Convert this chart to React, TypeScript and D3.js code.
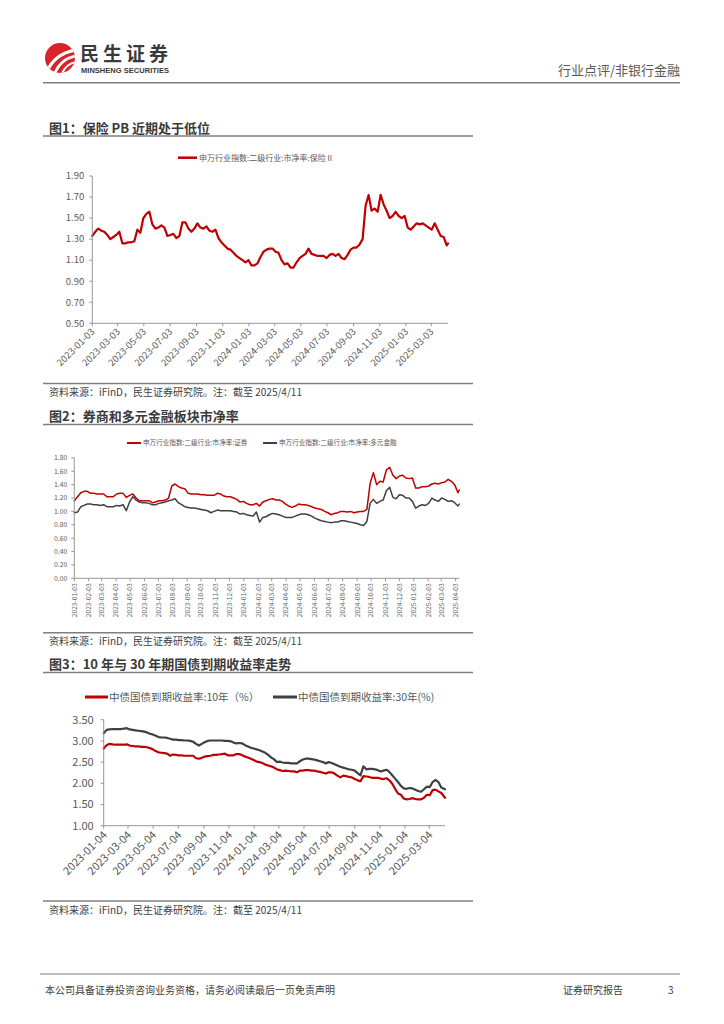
import React from 'react';
import * as d3 from 'd3';

const FONT = "'Noto Sans CJK SC', 'Noto Sans', sans-serif";

// ---------- Chart 1: 申万 保险Ⅱ 市净率 (weekly samples from 2023-01-03) ----------
const start1 = '2023-01-03';
const pbInsurance = [
  1.33, 1.37, 1.40, 1.38, 1.37, 1.34, 1.30, 1.32, 1.34, 1.37,
  1.26, 1.26, 1.27, 1.27, 1.28, 1.39, 1.36, 1.50, 1.54, 1.56,
  1.44, 1.40, 1.41, 1.43, 1.41, 1.33, 1.34, 1.35, 1.31, 1.33,
  1.46, 1.46, 1.40, 1.37, 1.40, 1.45, 1.41, 1.40, 1.42, 1.38,
  1.37, 1.39, 1.31, 1.27, 1.24, 1.21, 1.20, 1.17, 1.14, 1.12,
  1.10, 1.08, 1.10, 1.05, 1.05, 1.07, 1.13, 1.18, 1.20, 1.21,
  1.21, 1.18, 1.17, 1.10, 1.06, 1.07, 1.03, 1.03, 1.08, 1.12,
  1.14, 1.16, 1.21, 1.16, 1.15, 1.14, 1.14, 1.14, 1.12, 1.15,
  1.16, 1.14, 1.16, 1.12, 1.11, 1.15, 1.20, 1.22, 1.22, 1.25,
  1.30, 1.62, 1.72, 1.57, 1.59, 1.56, 1.72, 1.63, 1.57, 1.50,
  1.52, 1.56, 1.52, 1.50, 1.52, 1.41, 1.39, 1.42, 1.45, 1.44,
  1.45, 1.43, 1.41, 1.39, 1.45, 1.39, 1.33, 1.32, 1.24,
];
const lastDate = '2025-04-11';
const pbInsuranceLast = 1.26;
const yTicks1 = [0.5, 0.7, 0.9, 1.1, 1.3, 1.5, 1.7, 1.9];
const xTicks1 = [
  '2023-01-03', '2023-03-03', '2023-05-03', '2023-07-03', '2023-09-03', '2023-11-03',
  '2024-01-03', '2024-03-03', '2024-05-03', '2024-07-03', '2024-09-03', '2024-11-03',
  '2025-01-03', '2025-03-03',
];

// ---------- Chart 2: 证券 / 多元金融 市净率 (weekly samples from 2023-01-03) ----------
const pbSecurities = [
  1.16, 1.22, 1.28, 1.30, 1.30, 1.27, 1.27, 1.26, 1.26, 1.26,
  1.22, 1.22, 1.22, 1.26, 1.27, 1.27, 1.21, 1.24, 1.26, 1.20,
  1.16, 1.16, 1.16, 1.16, 1.13, 1.14, 1.16, 1.16, 1.17, 1.20,
  1.38, 1.41, 1.37, 1.35, 1.34, 1.27, 1.26, 1.26, 1.26, 1.25,
  1.25, 1.24, 1.24, 1.24, 1.27, 1.26, 1.23, 1.22, 1.22, 1.20,
  1.18, 1.14, 1.15, 1.12, 1.10, 1.10, 1.12, 1.08, 1.14, 1.16,
  1.18, 1.19, 1.17, 1.17, 1.15, 1.11, 1.08, 1.06, 1.08, 1.11,
  1.10, 1.10, 1.09, 1.07, 1.05, 1.04, 1.03, 1.00, 0.98, 0.95,
  0.97, 0.98, 1.00, 1.00, 0.99, 1.00, 0.98, 0.99, 1.00, 1.00,
  1.03, 1.42, 1.58, 1.40, 1.45, 1.44, 1.62, 1.66, 1.54, 1.49,
  1.53, 1.54, 1.50, 1.49, 1.50, 1.35, 1.35, 1.37, 1.37, 1.38,
  1.41, 1.42, 1.41, 1.43, 1.44, 1.48, 1.45, 1.40, 1.28,
];
const pbSecuritiesLast = 1.32;
const pbDiversified = [
  0.98, 0.99, 1.07, 1.09, 1.11, 1.11, 1.10, 1.10, 1.09, 1.10,
  1.07, 1.07, 1.07, 1.09, 1.08, 1.10, 1.01, 1.14, 1.22, 1.17,
  1.14, 1.13, 1.13, 1.12, 1.10, 1.10, 1.12, 1.13, 1.14, 1.16,
  1.17, 1.19, 1.13, 1.10, 1.07, 1.06, 1.05, 1.05, 1.04, 1.03,
  1.02, 1.01, 0.98, 1.00, 1.02, 1.01, 1.01, 1.01, 1.01, 1.00,
  0.99, 0.96, 0.97, 0.95, 0.94, 0.93, 0.99, 0.84, 0.91, 0.92,
  0.95, 0.97, 0.96, 0.95, 0.93, 0.91, 0.91, 0.91, 0.93, 0.95,
  0.96, 0.96, 0.95, 0.93, 0.90, 0.88, 0.86, 0.85, 0.84, 0.83,
  0.84, 0.84, 0.86, 0.86, 0.85, 0.84, 0.83, 0.82, 0.80, 0.79,
  0.85, 1.12, 1.18, 1.12, 1.15, 1.17, 1.31, 1.36, 1.21, 1.19,
  1.25, 1.24, 1.20, 1.20, 1.15, 1.05, 1.08, 1.10, 1.09, 1.12,
  1.20, 1.17, 1.15, 1.20, 1.18, 1.15, 1.16, 1.13, 1.08,
];
const pbDiversifiedLast = 1.11;
const yTicks2 = [0, 0.2, 0.4, 0.6, 0.8, 1.0, 1.2, 1.4, 1.6, 1.8];
const xTicks2 = [
  '2023-01-03', '2023-02-03', '2023-03-03', '2023-04-03', '2023-05-03', '2023-06-03',
  '2023-07-03', '2023-08-03', '2023-09-03', '2023-10-03', '2023-11-03', '2023-12-03',
  '2024-01-03', '2024-02-03', '2024-03-03', '2024-04-03', '2024-05-03', '2024-06-03',
  '2024-07-03', '2024-08-03', '2024-09-03', '2024-10-03', '2024-11-03', '2024-12-03',
  '2025-01-03', '2025-02-03', '2025-03-03', '2025-04-03',
];

// ---------- Chart 3: 中债国债到期收益率 10年 / 30年 (weekly samples from 2023-01-04) ----------
const start3 = '2023-01-04';
const cgb10y = [
  2.82, 2.90, 2.93, 2.92, 2.91, 2.91, 2.91, 2.91, 2.92, 2.89,
  2.88, 2.87, 2.87, 2.86, 2.86, 2.85, 2.83, 2.80, 2.76, 2.73,
  2.72, 2.71, 2.70, 2.65, 2.68, 2.67, 2.66, 2.66, 2.65, 2.65,
  2.65, 2.65, 2.59, 2.58, 2.60, 2.63, 2.64, 2.65, 2.67, 2.67,
  2.68, 2.69, 2.70, 2.66, 2.66, 2.66, 2.69, 2.69, 2.66, 2.63,
  2.61, 2.58, 2.55, 2.51, 2.50, 2.48, 2.44, 2.42, 2.40, 2.37,
  2.33, 2.31, 2.29, 2.30, 2.29, 2.28, 2.28, 2.26, 2.30, 2.30,
  2.31, 2.31, 2.30, 2.30, 2.28, 2.27, 2.25, 2.23, 2.26, 2.26,
  2.23, 2.18, 2.14, 2.18, 2.17, 2.15, 2.14, 2.10, 2.07, 2.05,
  2.17, 2.16, 2.15, 2.13, 2.13, 2.13, 2.11, 2.10, 2.12, 2.07,
  1.99, 1.87, 1.76, 1.73, 1.64, 1.62, 1.63, 1.65, 1.63, 1.62,
  1.62, 1.66, 1.73, 1.72, 1.84, 1.85, 1.81, 1.77,
];
const cgb10yLast = 1.66;
const cgb30y = [
  3.18, 3.26, 3.27, 3.28, 3.28, 3.28, 3.28, 3.29, 3.30, 3.27,
  3.26, 3.25, 3.24, 3.23, 3.22, 3.20, 3.17, 3.15, 3.12, 3.09,
  3.08, 3.08, 3.07, 3.05, 3.03, 3.03, 3.02, 3.02, 3.01, 3.01,
  3.00, 2.98, 2.93, 2.89, 2.93, 2.97, 3.00, 3.01, 3.01, 3.01,
  3.01, 3.01, 3.00, 3.00, 2.99, 2.96, 2.94, 2.95, 2.94, 2.90,
  2.87, 2.84, 2.82, 2.80, 2.78, 2.75, 2.72, 2.67, 2.61, 2.57,
  2.50, 2.51, 2.49, 2.48, 2.48, 2.47, 2.47, 2.47, 2.52, 2.56,
  2.58, 2.58, 2.57, 2.56, 2.54, 2.52, 2.50, 2.47, 2.50, 2.48,
  2.45, 2.42, 2.39, 2.37, 2.35, 2.33, 2.32, 2.30, 2.24, 2.19,
  2.40, 2.33, 2.34, 2.34, 2.33, 2.31, 2.28, 2.30, 2.32, 2.27,
  2.19, 2.11, 2.03, 1.94, 1.88, 1.87, 1.89, 1.88, 1.85, 1.82,
  1.80, 1.86, 1.92, 1.91, 2.03, 2.08, 2.03, 1.90,
];
const cgb30yLast = 1.86;
const yTicks3 = [1.0, 1.5, 2.0, 2.5, 3.0, 3.5];
const xTicks3 = [
  '2023-01-04', '2023-03-04', '2023-05-04', '2023-07-04', '2023-09-04', '2023-11-04',
  '2024-01-04', '2024-03-04', '2024-05-04', '2024-07-04', '2024-09-04', '2024-11-04',
  '2025-01-04', '2025-03-04',
];

const sourceText = '资料来源：iFinD，民生证券研究院。注：截至 2025/4/11';

const parse = d3.timeParse('%Y-%m-%d');
type Pt = { date: Date; value: number };
function weekly(start: string, values: number[], endDate: string, endValue: number): Pt[] {
  const s = parse(start) as Date;
  const pts = values.map((v, i) => ({ date: d3.timeDay.offset(s, 7 * i), value: v }));
  pts.push({ date: parse(endDate) as Date, value: endValue });
  return pts;
}

type Series = { pts: Pt[]; color: string; width: number };
type ChartProps = {
  left: number; right: number; top: number; bottom: number;
  yDomain: [number, number]; yTicks: number[]; yFontSize: number; yLabelGap: number;
  xStart: string; xTicks: string[]; xFontSize: number; xRotate: number;
  xLabelDx: number; xLabelDy: number; series: Series[];
};

const AXIS = '#8c8c8c';
const LABEL = '#595959';

function LineChart(p: ChartProps) {
  const x = d3.scaleTime()
    .domain([parse(p.xStart) as Date, parse(lastDate) as Date])
    .range([p.left, p.right]);
  const y = d3.scaleLinear().domain(p.yDomain).range([p.bottom, p.top]);
  const line = d3.line<Pt>().x((d) => x(d.date)).y((d) => y(d.value)).curve(d3.curveLinear);
  return (
    <g>
      {p.series.map((s, i) => (
        <path key={i} d={line(s.pts) || ''} fill="none" stroke={s.color} strokeWidth={s.width}
          strokeLinejoin="round" strokeLinecap="round" />
      ))}
      <line x1={p.left} x2={p.left} y1={p.top} y2={p.bottom} stroke={AXIS} strokeWidth={0.9} />
      <line x1={p.left} x2={p.right} y1={p.bottom} y2={p.bottom} stroke={AXIS} strokeWidth={0.9} />
      {p.yTicks.map((t) => (
        <g key={t}>
          <line x1={p.left - 3} x2={p.left} y1={y(t)} y2={y(t)} stroke={AXIS} strokeWidth={0.9} />
          <text x={p.left - p.yLabelGap} y={y(t)} dy="0.35em" textAnchor="end"
            fontSize={p.yFontSize} fill={LABEL} fontFamily={FONT}>{t.toFixed(2)}</text>
        </g>
      ))}
      {p.xTicks.map((t) => {
        const tx = x(parse(t) as Date);
        return (
          <g key={t}>
            <line x1={tx} x2={tx} y1={p.bottom} y2={p.bottom + 3} stroke={AXIS} strokeWidth={0.9} />
            <text transform={`translate(${tx + p.xLabelDx},${p.bottom + p.xLabelDy}) rotate(${p.xRotate})`}
              textAnchor="end" fontSize={p.xFontSize} fill={LABEL} fontFamily={FONT}>{t}</text>
          </g>
        );
      })}
    </g>
  );
}

function Section({ title, y }: { title: string; y: number }) {
  return (
    <g>
      <text x={49} y={y} fontSize={13} fontWeight="bold" fill="#3a3a3a" fontFamily={FONT}>{title}</text>
      <line x1={43} x2={473} y1={y + 3.5} y2={y + 3.5} stroke="#7f7f7f" strokeWidth={1.4} />
    </g>
  );
}

function Source({ lineY }: { lineY: number }) {
  return (
    <g>
      <line x1={43} x2={473} y1={lineY} y2={lineY} stroke="#7f7f7f" strokeWidth={1.4} />
      <text x={49} y={lineY + 9} dy="0.35em" fontSize={10} fill="#404040" fontFamily={FONT}>{sourceText}</text>
    </g>
  );
}

function Logo() {
  return (
    <g>
      <defs>
        <clipPath id="logoClip"><circle cx={60} cy={58} r={15} /></clipPath>
      </defs>
      <circle cx={60} cy={58} r={15} fill="#d9232a" />
      <g clipPath="url(#logoClip)" fill="none" stroke="#fff" strokeLinecap="round">
        <path d="M47,72 Q54,54 76,50" strokeWidth={3.2} />
        <path d="M54,75 Q60,59 76,56" strokeWidth={2.6} />
        <path d="M61,76 Q65,64 76,62" strokeWidth={2} />
      </g>
      <text x={80} y={61} fontSize={19} fontWeight="bold" fill="#3a3a3a" fontFamily={FONT}
        textLength={88} lengthAdjust="spacing">民生证券</text>
      <text x={81} y={73} fontSize={7} fontWeight="bold" fill="#3a3a3a"
        fontFamily="'Liberation Sans', Arial, sans-serif" textLength={88} lengthAdjust="spacingAndGlyphs">MINSHENG SECURITIES</text>
    </g>
  );
}

export default function App() {
  const s1 = weekly(start1, pbInsurance, lastDate, pbInsuranceLast);
  const s2a = weekly(start1, pbSecurities, lastDate, pbSecuritiesLast);
  const s2b = weekly(start1, pbDiversified, lastDate, pbDiversifiedLast);
  const s3a = weekly(start3, cgb10y, lastDate, cgb10yLast);
  const s3b = weekly(start3, cgb30y, lastDate, cgb30yLast);
  const RED = '#c00000';
  const DARK = '#404040';
  return (
    <svg width={724} height={1024} viewBox="0 0 724 1024"
      style={{ position: 'absolute', left: 0, top: 0, background: '#fff' }}>
      <rect width={724} height={1024} fill="#fff" />
      <Logo />
      <text x={680} y={75} textAnchor="end" fontSize={13} fill="#595959" fontFamily={FONT}>行业点评/非银行金融</text>
      <line x1={43} x2={680} y1={82.8} y2={82.8} stroke="#7f7f7f" strokeWidth={1.4} />

      {/* Figure 1 */}
      <Section title="图1：保险 PB 近期处于低位" y={132.5} />
      <line x1={178} x2={197} y1={157.7} y2={157.7} stroke={RED} strokeWidth={2.5} />
      <text x={199} y={157.7} dy="0.35em" fontSize={8} fill={LABEL} fontFamily={FONT}>申万行业指数:二级行业:市净率:保险Ⅱ</text>
      <LineChart left={92.3} right={448} top={176} bottom={323.3} yDomain={[0.5, 1.9]}
        yTicks={yTicks1} yFontSize={9.5} yLabelGap={8} xStart={start1} xTicks={xTicks1}
        xFontSize={9.5} xRotate={-45} xLabelDx={3} xLabelDy={9}
        series={[{ pts: s1, color: RED, width: 2.2 }]} />
      <Source lineY={383.5} />

      {/* Figure 2 */}
      <Section title="图2：券商和多元金融板块市净率" y={421} />
      <line x1={127} x2={141} y1={443} y2={443} stroke={RED} strokeWidth={2} />
      <text x={143} y={443} dy="0.35em" fontSize={6.6} fill={LABEL} fontFamily={FONT}>申万行业指数:二级行业:市净率:证券</text>
      <line x1={263} x2={277} y1={443} y2={443} stroke={DARK} strokeWidth={2} />
      <text x={279} y={443} dy="0.35em" fontSize={6.6} fill={LABEL} fontFamily={FONT}>申万行业指数:二级行业:市净率:多元金融</text>
      <LineChart left={74.3} right={459.3} top={457.9} bottom={578.3} yDomain={[0, 1.8]}
        yTicks={yTicks2} yFontSize={6.8} yLabelGap={7} xStart={start1} xTicks={xTicks2}
        xFontSize={6.6} xRotate={-90} xLabelDx={2.4} xLabelDy={5}
        series={[{ pts: s2b, color: DARK, width: 1.5 }, { pts: s2a, color: RED, width: 1.5 }]} />
      <Source lineY={632.7} />

      {/* Figure 3 */}
      <Section title="图3：10 年与 30 年期国债到期收益率走势" y={669} />
      <line x1={85} x2={108} y1={697} y2={697} stroke={RED} strokeWidth={3} />
      <text x={109} y={697} dy="0.35em" fontSize={10.5} fill={LABEL} fontFamily={FONT}>中债国债到期收益率:10年（%）</text>
      <line x1={273} x2={297} y1={697} y2={697} stroke={DARK} strokeWidth={3} />
      <text x={298} y={697} dy="0.35em" fontSize={10.5} fill={LABEL} fontFamily={FONT}>中债国债到期收益率:30年(%)</text>
      <LineChart left={103.7} right={445} top={719.7} bottom={825.7} yDomain={[1.0, 3.5]}
        yTicks={yTicks3} yFontSize={11} yLabelGap={10} xStart={start3} xTicks={xTicks3}
        xFontSize={11} xRotate={-45} xLabelDx={4} xLabelDy={10}
        series={[{ pts: s3a, color: RED, width: 2.2 }, { pts: s3b, color: DARK, width: 2.2 }]} />
      <Source lineY={901} />

      {/* Footer */}
      <line x1={40} x2={680} y1={974} y2={974} stroke="#7f7f7f" strokeWidth={1.2} />
      <text x={45} y={990} dy="0.35em" fontSize={10} fill="#404040" fontFamily={FONT}>本公司具备证券投资咨询业务资格，请务必阅读最后一页免责声明</text>
      <text x={563} y={990} dy="0.35em" fontSize={10} fill="#404040" fontFamily={FONT}>证券研究报告</text>
      <text x={668} y={990} dy="0.35em" fontSize={10} fill="#404040" fontFamily={FONT}>3</text>
    </svg>
  );
}
